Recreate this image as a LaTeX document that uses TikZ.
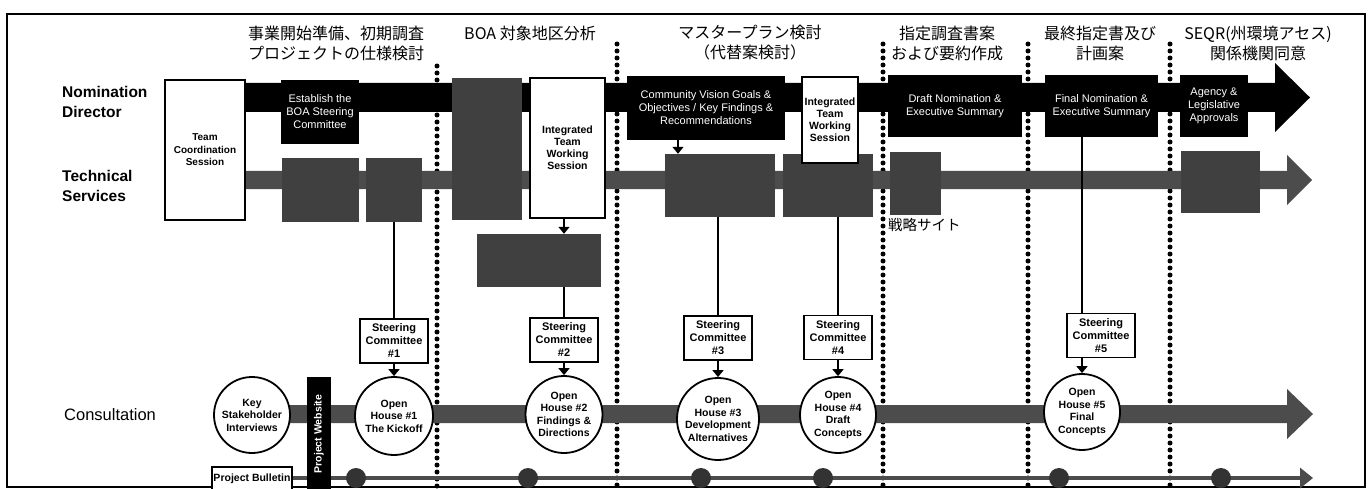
\documentclass[tikz,border=0pt]{standalone}
\usepackage{fontspec}
\setmainfont{Liberation Sans}
\newfontfamily\jp{Noto Sans CJK JP}
\usetikzlibrary{arrows.meta}
\begin{document}
\begin{tikzpicture}[x=1pt,y=-1pt,
  every node/.style={inner sep=0pt, align=center},
  blkbox/.style={fill=black, text=white, font=\fontsize{11}{13}\selectfont},
  graybox/.style={fill=black!75},
  wbox/.style={draw=black, line width=2pt, fill=white, font=\bfseries\fontsize{10.5}{12}\selectfont},
  scbox/.style={draw=black, line width=1.8pt, fill=white, font=\bfseries\fontsize{11}{13}\selectfont, minimum width=68pt, minimum height=44pt},
  ohc/.style={circle, draw=black, line width=1.8pt, fill=white, font=\bfseries\fontsize{10.5}{12.5}\selectfont},
  lane/.style={anchor=west, align=left, font=\bfseries\fontsize{15.5}{20}\selectfont},
  hdr/.style={font=\jp\fontsize{16}{20}\selectfont},
  sepline/.style={line width=5pt, line cap=round, dash pattern=on 0pt off 7pt, black},
  conn/.style={line width=1.6pt},
  arr/.style={line width=1.6pt, -{Triangle[width=11pt,length=7pt]}},
  dotc/.style={circle, fill=black!80, minimum size=20pt},
]
\clip (0,0) rectangle (1372,489);
\fill[white] (0,0) rectangle (1372,489);
\draw[line width=1.5pt] (7,14) rectangle (1365,487);

% headers
\node[hdr] (h1) at (336,43) {事業開始準備、初期調査\\プロジェクトの仕様検討};
\node[hdr] (h2) at (530,33) {BOA 対象地区分析};
\node[hdr] (h3) at (750,43) {マスタープラン検討\\（代替案検討）};
\node[hdr] (h4) at (947,43) {指定調査書案\\および要約作成};
\node[hdr] (h5) at (1100,43) {最終指定書及び\\計画案};
\node[hdr] (h6) at (1258,43) {SEQR(州環境アセス)\\関係機関同意};

% lane labels
\node[lane] (nd) at (62,102) {Nomination\\Director};
\node[lane] (tsv) at (62,186) {Technical\\Services};
\node[lane, font=\fontsize{16.5}{20}\selectfont] (cons) at (64,415) {Consultation};

% separators
\draw[sepline] (437,66) -- (437,489);
\draw[sepline] (617,44) -- (617,489);
\draw[sepline] (883,44) -- (883,489);
\draw[sepline] (1028,44) -- (1028,489);
\draw[sepline] (1170,44) -- (1170,489);

% bands
\fill[black] (245,83) -- (1275,83) -- (1275,63) -- (1310,97.5) -- (1275,132) -- (1275,112) -- (245,112) -- cycle;
\fill[black!70] (245,171) -- (1287,171) -- (1287,155) -- (1312,180) -- (1287,205) -- (1287,189) -- (245,189) -- cycle;
\fill[black!70] (252,405) -- (1287,405) -- (1287,389) -- (1313,414) -- (1287,439) -- (1287,423) -- (252,423) -- cycle;

% boxes
\node[wbox, minimum width=80pt, minimum height=140pt, font=\bfseries\fontsize{10}{12.5}\selectfont] (tcs) at (205,150) {Team\\Coordination\\Session};
\node[blkbox, minimum width=78pt, minimum height=64pt] (est) at (320,112) {Establish the\\BOA Steering\\Committee};
\node[graybox, minimum width=77pt, minimum height=64pt] (tsA) at (320.5,190) {};
\node[graybox, minimum width=56pt, minimum height=64pt] (tsB) at (394,190) {};
\node[graybox, minimum width=70pt, minimum height=142pt] (tall) at (487,149) {};
\node[wbox, minimum width=75pt, minimum height=140pt] (itws1) at (567.5,148) {Integrated\\Team\\Working\\Session};
\node[graybox, minimum width=124pt, minimum height=53pt] (boa) at (539,260.5) {};
\node[blkbox, minimum width=158pt, minimum height=64pt] (cvg) at (706,108) {Community Vision Goals \&\\Objectives / Key Findings \&\\Recommendations};
\node[graybox, minimum width=110pt, minimum height=63pt] (tsC) at (720,185.5) {};
\node[graybox, minimum width=90pt, minimum height=63pt] (tsD) at (828,185.5) {};
\node[wbox, minimum width=56pt, minimum height=86pt] (itws2) at (830,120) {Integrated\\Team\\Working\\Session};
\node[blkbox, minimum width=134pt, minimum height=62pt] (dn) at (955,106) {Draft Nomination \&\\Executive Summary};
\node[graybox, minimum width=51pt, minimum height=63pt] (tsE) at (915.5,183.5) {};
\node[anchor=west, font=\jp\fontsize{14.5}{17}\selectfont] (senryaku) at (888,225) {戦略サイト};
\node[blkbox, minimum width=113pt, minimum height=62pt] (fn) at (1101.5,106) {Final Nomination \&\\Executive Summary};
\node[blkbox, minimum width=68pt, minimum height=62pt] (ag) at (1214,106) {Agency \&\\Legislative\\Approvals};
\node[graybox, minimum width=79pt, minimum height=62pt] (tsF) at (1220.5,182) {};

% steering committees
\node[scbox] (sc1) at (394,341) {Steering\\Committee\\\#1};
\node[scbox] (sc2) at (564,340) {Steering\\Committee\\\#2};
\node[scbox] (sc3) at (718,338) {Steering\\Committee\\\#3};
\node[scbox] (sc4) at (838,337.5) {Steering\\Committee\\\#4};
\node[scbox] (sc5) at (1101,335.5) {Steering\\Committee\\\#5};

% bottom bulletin line
\node[draw, line width=1.5pt, fill=white, minimum width=80pt, minimum height=24pt, font=\bfseries\fontsize{10.5}{12}\selectfont] (pb) at (252,479) {Project Bulletin};
\coordinate (blEnd) at (1313,478);
\draw[line width=4pt, black!70, -{Triangle[width=20pt,length=13pt]}] (pb.east |- blEnd) -- (blEnd);
\node[dotc] (d1) at (356,478) {};
\node[dotc] (d2) at (528,478) {};
\node[dotc] (d3) at (701,478) {};
\node[dotc] (d4) at (823,478) {};
\node[dotc] (d5) at (1059,478) {};
\node[dotc] (d6) at (1221,478) {};

% website bar
\node[fill=black, rotate=90, minimum width=115pt, minimum height=24pt, text=white, font=\bfseries\fontsize{10.5}{12}\selectfont] (web) at (319,434) {Project Website};

% circles
\node[ohc, minimum size=76pt] (kst) at (252,415) {Key\\Stakeholder\\Interviews};
\node[ohc, minimum size=78pt] (oh1) at (394,416) {Open\\House \#1\\The Kickoff};
\node[ohc, minimum size=77pt] (oh2) at (564,414.5) {Open\\House \#2\\Findings \&\\Directions};
\node[ohc, minimum size=82pt] (oh3) at (718,419) {Open\\House \#3\\Development\\Alternatives};
\node[ohc, minimum size=76pt] (oh4) at (838,415) {Open\\House \#4\\Draft\\Concepts};
\node[ohc, minimum size=76pt] (oh5) at (1082,412) {Open\\House \#5\\Final\\Concepts};

% connectors
\coordinate (cx) at (678,0);
\draw[arr] (cvg.south -| cx) -- (tsC.north -| cx);
\draw[arr] (itws1.south -| sc2) -- (boa.north -| sc2);
\draw[conn] (tsB.south -| sc1) -- (sc1.north);
\draw[arr] (sc1.south) -- (oh1.north);
\draw[conn] (boa.south -| sc2) -- (sc2.north);
\draw[arr] (sc2.south) -- (oh2.north);
\draw[conn] (tsC.south -| sc3) -- (sc3.north);
\draw[arr] (sc3.south) -- (oh3.north);
\draw[conn] (tsD.south -| sc4) -- (sc4.north);
\draw[arr] (sc4.south) -- (oh4.north);
\draw[conn] (fn.south -| oh5) -- (sc5.north -| oh5);
\draw[arr] (sc5.south -| oh5) -- (oh5.north);
\end{tikzpicture}
\end{document}
